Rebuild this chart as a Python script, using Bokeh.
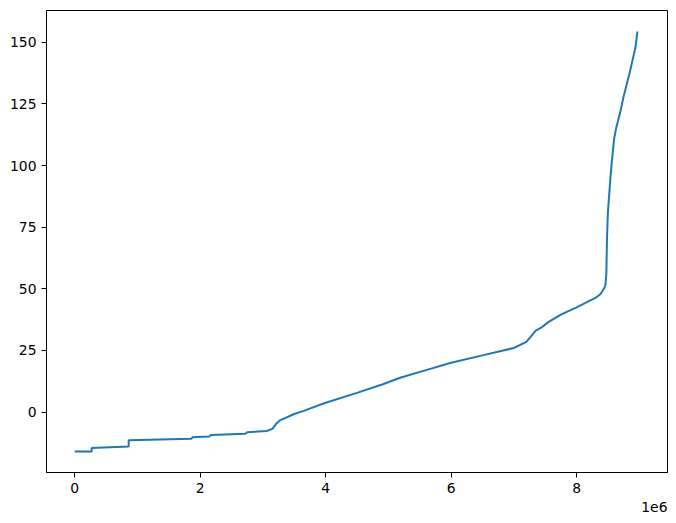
from bokeh.plotting import figure
from bokeh.models import Range1d, FixedTicker, Title
from bokeh.embed import file_html
from bokeh.resources import INLINE

# data (x in units, y values)
xs = [0, 0.27e6, 0.27e6, 0.86e6, 0.86e6, 1.86e6, 1.88e6, 2.15e6, 2.17e6, 2.72e6,
      2.75e6, 3.06e6, 3.15e6, 3.22e6, 3.27e6, 3.5e6, 3.65e6, 4.0e6, 4.5e6, 4.9e6,
      5.2e6, 5.6e6, 6.0e6, 6.5e6, 7.0e6, 7.2e6, 7.25e6, 7.3e6, 7.35e6, 7.45e6,
      7.55e6, 7.75e6, 8.0e6, 8.3e6, 8.38e6, 8.44e6, 8.46e6, 8.475e6, 8.485e6, 8.5e6,
      8.52e6, 8.54e6, 8.56e6, 8.6e6, 8.63e6, 8.7e6, 8.75e6, 8.8e6, 8.85e6, 8.9e6,
      8.94e6, 8.97e6]
ys = [-16.0, -16.0, -14.6, -14.0, -11.4, -10.8, -10.2, -9.9, -9.3, -8.8,
      -8.2, -7.7, -6.8, -4.5, -3.4, -0.8, 0.5, 3.8, 7.8, 11.2,
      14.0, 17.0, 20.0, 23.0, 26.0, 28.5, 30.0, 31.5, 33.0, 34.5,
      36.5, 39.5, 42.5, 46.3, 47.8, 50.2, 51.5, 56.0, 70.0, 81.0,
      88.0, 95.0, 101.0, 111.0, 115.0, 122.0, 128.0, 133.0, 138.0, 143.6,
      148.0, 154.4]
x_ticks = [0, 2e6, 4e6, 6e6, 8e6]
x_tick_labels = ["0", "2", "4", "6", "8"]
y_ticks = [0, 25, 50, 75, 100, 125, 150]
offset_text = "1e6"

xmin, xmax = 0, 9e6
ymin, ymax = min(ys), max(ys)
mx = (xmax - xmin) * 0.05
my = (ymax - ymin) * 0.05

p = figure(width=668, height=516, output_backend="svg", toolbar_location=None,
           x_range=Range1d(xmin - mx, xmax + mx), y_range=Range1d(ymin - my, ymax + my),
           min_border_left=46, min_border_right=1, min_border_top=10, min_border_bottom=44)
p.line(xs, ys, line_color="#1f77b4", line_width=2)

p.xgrid.visible = False
p.ygrid.visible = False
p.outline_line_color = "black"
p.outline_line_alpha = 1
p.outline_line_width = 1
p.background_fill_color = "white"
p.border_fill_color = "white"

for ax in (p.xaxis[0], p.yaxis[0]):
    ax.axis_line_color = "black"
    ax.major_tick_line_color = "black"
    ax.major_tick_out = 5
    ax.major_tick_in = 0
    ax.minor_tick_out = 0
    ax.minor_tick_in = 0
    ax.major_label_text_font = "DejaVu Sans"
    ax.major_label_text_font_size = "13.9px"
    ax.major_label_text_color = "black"
    ax.major_label_standoff = 5

p.xaxis.ticker = FixedTicker(ticks=x_ticks)
p.xaxis.major_label_overrides = {t: l for t, l in zip(x_ticks, x_tick_labels)}
p.yaxis.ticker = FixedTicker(ticks=y_ticks)
p.yaxis.major_label_overrides = {t: str(t) for t in y_ticks}

t = Title(text=offset_text, align="right", text_font="DejaVu Sans",
          text_font_size="13.9px", text_font_style="normal", text_color="black",
          standoff=9, offset=0)
p.add_layout(t, "below")

open("out.html", "w").write(file_html(p, INLINE))
